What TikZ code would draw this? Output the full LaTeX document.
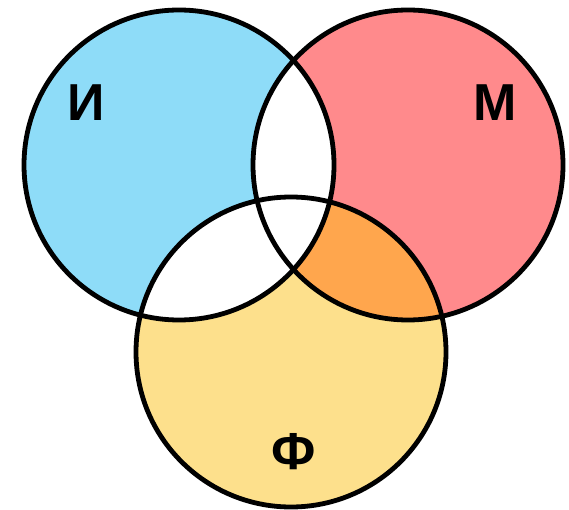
\documentclass[tikz,border=0pt]{standalone}
\usepackage{fontspec}
\setmainfont{Liberation Sans}
\definecolor{setblue}{HTML}{8EDCF8}
\definecolor{setred}{HTML}{FF8A8C}
\definecolor{setyellow}{HTML}{FDE08C}
\definecolor{setorange}{HTML}{FFA64D}
\tikzset{
  setline/.style={draw=black,line width=4.8pt},
  setlabel/.style={font=\fontsize{52}{52}\selectfont\bfseries,inner sep=0pt},
  blank/.style={fill=white}
}
\newcommand{\setI}{(179,165) circle[radius=155pt]}
\newcommand{\setM}{(408,165) circle[radius=155pt]}
\newcommand{\setF}{(291,352) circle[radius=155pt]}

\begin{document}
\begin{tikzpicture}[x=1pt,y=-1pt]
  \useasboundingbox (0,0) rectangle (569,510);

  \fill[setblue] \setI;
  \fill[setred] \setM;
  \fill[setyellow] \setF;

  % overlaps
  \begin{scope}
    \clip \setM;
    \fill[setorange] \setF;
  \end{scope}
  \begin{scope}
    \clip \setI;
    \fill[blank] \setM;
    \fill[blank] \setF;
  \end{scope}

  \draw[setline] \setI;
  \draw[setline] \setM;
  \draw[setline] \setF;

  \node[setlabel] (labI) at (86,103) {И};
  \node[setlabel] (labM) at (495,103) {М};
  \node[setlabel] (labF) at (294,452) {Ф};
\end{tikzpicture}
\end{document}
